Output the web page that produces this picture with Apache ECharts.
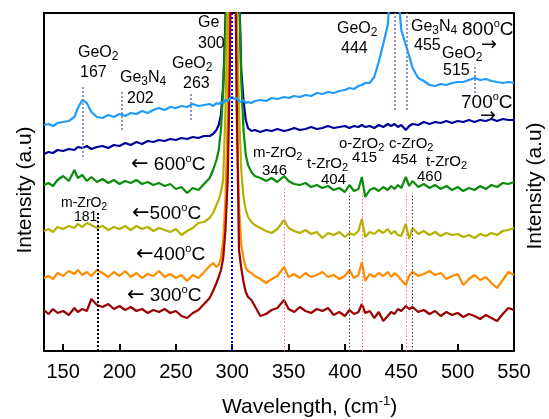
<!DOCTYPE html>
<html><head><meta charset="utf-8">
<script src="https://cdn.jsdelivr.net/npm/echarts@6/dist/echarts.min.js"></script>
<style>html,body{margin:0;padding:0;background:#fff}#c{width:549px;height:419px}</style>
</head><body><div id="c"></div>
<script>
// Raman shift (cm-1) sample positions shared by all spectra
const wavenumber = [133,137,141,145,150,155,160,163,167,171,175,180,185,190,195,200,205,210,215,220,225,230,235,240,245,250,255,260,265,270,275,280,283,286,288,290,292,294,296,298,300,302,304,306,308,310,312,314,317,320,325,330,335,340,346,350,355,360,365,370,375,380,385,390,395,400,404,408,412,415,418,422,426,430,434,438,441,444,447,450,454,457,460,465,470,475,480,485,490,495,500,505,510,515,520,525,530,535,540,545,550];

// Offset intensities (a.u.) for each annealing temperature
const t800 = [226,227,225,228,229,230,234,243,251,248,239,234,233,236,234,237,235,238,237,240,238,241,243,241,244,243,245,244,247,245,246,247,245,248,247,249,248,251,250,253,254,252,253,250,249,251,248,249,248,250,251,250,253,252,254,253,255,254,256,255,258,257,259,258,260,261,263,262,265,266,268,268,274,289,307,326,371,411,361,321,306,295,283,273,270,266,265,267,266,268,269,269,271,273,271,272,270,269,268,269,268];
const t700 = [197,199,198,201,200,202,201,204,203,205,202,204,205,203,206,205,208,206,209,207,210,209,211,210,212,211,213,212,214,213,215,215,217,221,226,236,266,331,451,651,851,751,551,371,281,251,231,223,220,221,219,221,220,222,220,221,223,221,222,224,222,223,225,223,224,225,223,225,224,226,224,225,223,226,224,227,225,227,224,226,221,225,227,226,229,227,229,228,230,228,230,229,231,229,231,230,232,230,232,231,231];
const t600 = [166,168,165,171,175,170,181,173,176,170,174,169,172,168,171,167,170,168,171,167,169,166,168,165,167,162,164,158,163,161,167,173,181,191,201,221,261,321,431,601,801,701,501,361,271,221,196,186,179,175,173,170,173,169,175,170,167,166,168,164,166,163,165,161,163,159,166,160,162,174,154,161,163,160,164,161,165,162,166,163,174,165,170,164,167,163,166,162,165,161,164,160,163,161,165,162,166,164,168,167,169];
const t500 = [120,122,119,124,122,125,123,127,124,128,126,123,125,121,124,122,125,121,125,122,124,120,123,121,119,122,116,120,123,128,129,133,138,146,151,159,171,241,361,551,751,651,351,241,181,154,141,134,129,126,123,120,118,122,131,123,120,118,121,117,119,113,118,116,119,114,118,116,120,132,114,119,117,121,118,122,117,120,116,115,127,112,123,117,120,116,119,115,118,116,117,114,116,113,117,115,118,116,120,121,123];
const t400 = [73,75,72,78,75,80,77,81,76,79,75,81,78,74,79,75,80,74,78,73,77,75,80,74,77,73,76,70,76,73,79,85,88,84,86,93,111,151,231,401,651,551,231,146,106,93,83,80,78,75,72,68,72,75,84,74,77,73,78,74,76,79,74,76,72,75,81,73,76,89,70,77,74,78,75,79,74,78,75,71,66,75,79,75,77,80,76,78,72,75,77,66,72,76,71,74,68,63,71,79,76];
const t300 = [41,37,42,38,40,36,43,39,42,40,52,46,44,47,42,45,41,44,40,42,38,41,39,42,38,40,35,33,38,41,47,53,60,68,74,81,93,121,171,291,551,451,251,101,83,69,59,54,51,45,35,37,41,43,51,42,39,44,40,38,42,40,43,36,39,35,41,37,39,47,38,40,33,39,30,35,39,37,42,40,45,42,44,39,41,37,40,35,39,36,38,34,37,35,32,36,33,30,37,43,41];

const tickValues = [150,200,250,300,350,400,450,500,550];

// Reference peak markers (cm-1) and their vertical extent in intensity units
const refPeaks = [167,202,263,300,444,455,515,181,346,404,415,454,460];
const refLow   = [194,221,231,0,241,241,254,0,0,0,0,0,0];
const refHigh  = [264,259,259,338,338,338,286,138,164,158,158,158,158];
const refKind  = ['geo','geo','geo','ge','geo','geo','geo','zb','zr','zk','zr','zr','zk'];

const F = "'Liberation Sans', Arial, sans-serif";
const kindStyle = {
  geo:{color:'#7c7cb0', width:1.6, type:[2,2]},
  ge:{color:'#0000ff', width:2, type:[2,2]},
  zb:{color:'#000000', width:2, type:[2,2]},
  zr:{color:'#ff6a6a', width:1, type:[1.5,2]},
  zk:{color:'#444444', width:1, type:[1.5,2]}
};

const markData = refPeaks.map((p,i)=>[
  {coord:[p, refLow[i]], lineStyle:kindStyle[refKind[i]]},
  {coord:[p, refHigh[i]]}
]);

function mk(name, arr, color){
  return {name, type:'line', data: wavenumber.map((x,i)=>[x, arr[i]]), showSymbol:false, symbol:'none',
    lineStyle:{color, width:2.2}, itemStyle:{color}, clip:true, animation:false};
}
const series = [
  mk('700', t700, '#00009c'),
  mk('600', t600, '#0b8c0b'),
  mk('500', t500, '#b4b200'),
  mk('400', t400, '#ff8c00'),
  mk('300', t300, '#9a0000'),
  mk('800', t800, '#1e9bff')
];
series[5].markLine = {silent:true, symbol:['none','none'], label:{show:false}, animation:false, data: markData};

// text annotations
const rich = (size)=>({
  n:{fontSize:size, fontFamily:F, fill:'#000', lineHeight:size+4, verticalAlign:'middle'},
  s:{fontSize:Math.round(size*0.72), fontFamily:F, fill:'#000', lineHeight:10, verticalAlign:'bottom'},
  o:{fontSize:Math.round(size*0.6), fontFamily:F, fill:'#000', lineHeight:10, verticalAlign:'top'},
  p:{fontSize:Math.round(size*0.6), fontFamily:F, fill:'#000', lineHeight:11, verticalAlign:'top'},
  a:{fontSize:size+2, fontFamily:"'DejaVu Sans', sans-serif", fill:'#000', lineHeight:size+4, verticalAlign:'middle'}
});
const labels = [
  ['{n|GeO}{s|2}',78,53,16], ['{n|167}',80,73,16],
  ['{n|Ge}{s|3}{n|N}{s|4}',120,78,16], ['{n|202}',127,99,16],
  ['{n|GeO}{s|2}',172,64,16], ['{n|263}',183,84,16],
  ['{n|Ge}',198,23,16], ['{n|300}',198,44,16],
  ['{n|GeO}{s|2}',337,29,16], ['{n|444}',341,49,16],
  ['{n|Ge}{s|3}{n|N}{s|4}',411,27,16], ['{n|455}',414,46,16],
  ['{n|GeO}{s|2}',442,54,16], ['{n|515}',443,71,16],
  ['{n|800}{o|o}{n|C}',462,30,19], ['{a|→}',481,45,17],
  ['{n|700}{o|o}{n|C}',461,103,19], ['{a|→}',480,116,17],
  ['{n|m-ZrO}{s|2}',253,153,15], ['{n|346}',262,171,15],
  ['{n|t-ZrO}{s|2}',307,164,15], ['{n|404}',321,180,15],
  ['{n|o-ZrO}{s|2}',339,144,15], ['{n|415}',352,158,15],
  ['{n|c-ZrO}{s|2}',389,144,15], ['{n|454}',392,160,15],
  ['{n|t-ZrO}{s|2}',426,162,15], ['{n|460}',417,177,15],
  ['{a|←} {n|600}{o|o}{n|C}',131,165,19],
  ['{a|←}{n|500}{o|o}{n|C}',132,214,19],
  ['{a|←}{n|400}{o|o}{n|C}',136,255,19],
  ['{a|←} {n|300}{o|o}{n|C}',127,296,19],
  ['{n|m-ZrO}{s|2}',61,203,14], ['{n|181}',74,217,14],
  ['{n|Wavelength, (cm}{p|-1}{n|)}',222,407,21]
];
const graphic = labels.map(l=>({type:'text', x:l[1], y:l[2], z:100, silent:true,
  style:{text:l[0], rich:rich(l[3]), fontSize:l[3], fontFamily:F, fill:'#000', align:'left', verticalAlign:'middle', textAlign:'left', textVerticalAlign:'middle'}}));
graphic.push({type:'text', x:25, y:190, rotation:Math.PI/2, z:100, silent:true,
  style:{text:'Intensity (a.u)', fontSize:21, fontFamily:F, fill:'#000', align:'center', verticalAlign:'middle', textAlign:'center', textVerticalAlign:'middle'}});
graphic.push({type:'text', x:535, y:186, rotation:Math.PI/2, z:100, silent:true,
  style:{text:'Intensity (a.u)', fontSize:21, fontFamily:F, fill:'#000', align:'center', verticalAlign:'middle', textAlign:'center', textVerticalAlign:'middle'}});

const chart = echarts.init(document.getElementById('c'), null, {renderer:'canvas'});
chart.setOption({
  animation:false,
  backgroundColor:'#fff',
  grid:{left:44, top:13, right:35, bottom:68, show:true, borderColor:'#000', borderWidth:2, backgroundColor:'transparent', containLabel:false},
  xAxis:{type:'value', min:133, max:550,
    axisLine:{show:true, lineStyle:{color:'#000', width:2}},
    axisTick:{show:true, inside:true, length:7, lineStyle:{color:'#000', width:2}, customValues: tickValues.slice(0,-1)},
    axisLabel:{customValues: tickValues, color:'#000', fontSize:20, fontFamily:F, margin:11},
    splitLine:{show:false}},
  yAxis:{type:'value', min:0, max:338,
    axisLine:{show:true, lineStyle:{color:'#000', width:2}},
    axisTick:{show:false}, axisLabel:{show:false}, splitLine:{show:false}},
  series,
  graphic
});
</script></body></html>
